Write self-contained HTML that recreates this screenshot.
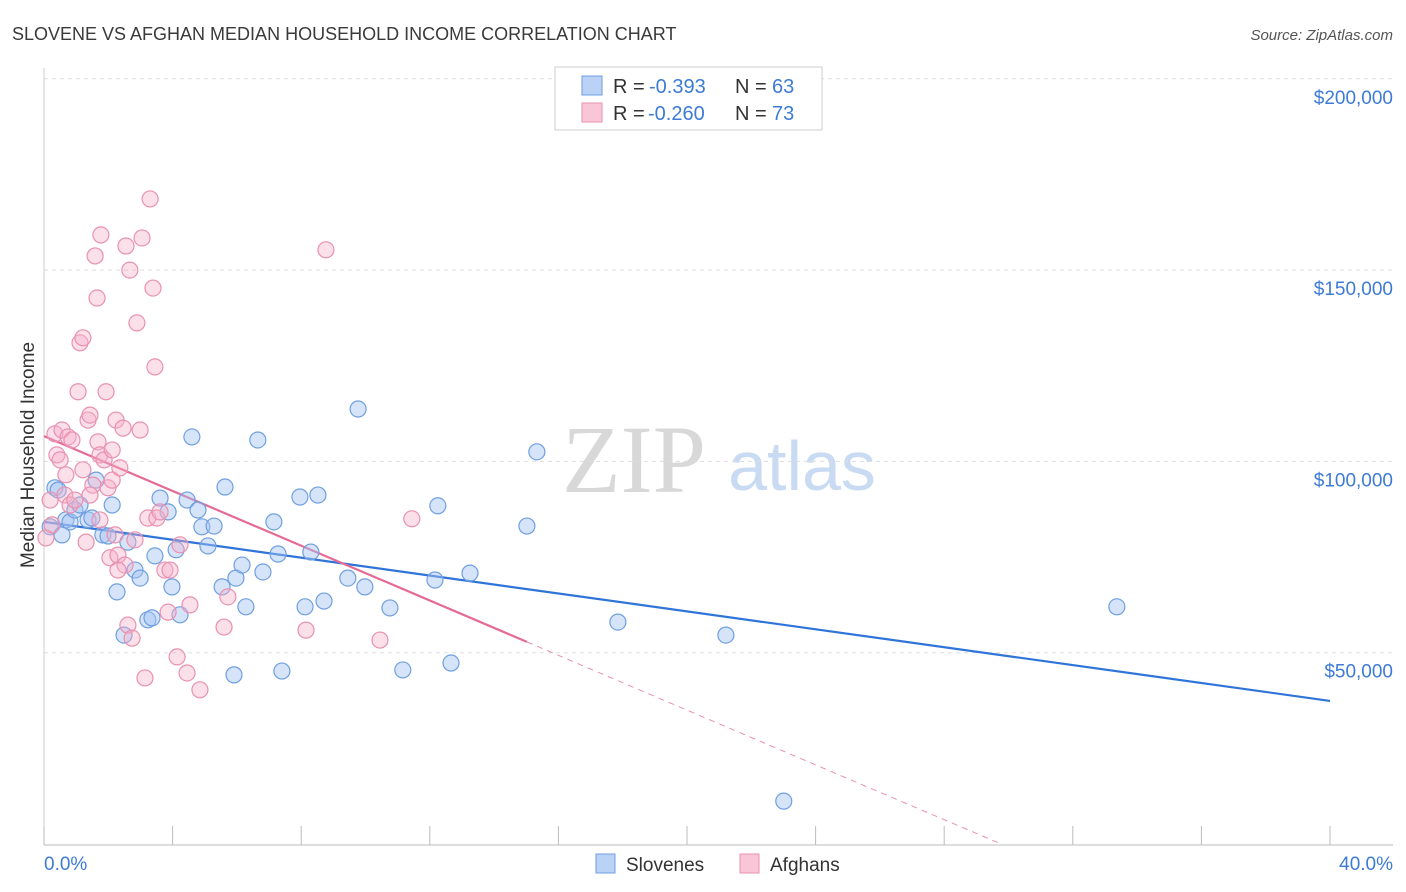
<!DOCTYPE html>
<html><head><meta charset="utf-8"><style>
body{margin:0;background:#fff;font-family:"Liberation Sans",sans-serif}
svg{display:block}
</style></head><body>
<svg id="chart" width="1406" height="892">
<text x="12" y="40" font-size="18" fill="#3a3a3a">SLOVENE VS AFGHAN MEDIAN HOUSEHOLD INCOME CORRELATION CHART</text>
<text x="1393" y="40" font-size="15" fill="#555" text-anchor="end" font-style="italic">Source: ZipAtlas.com</text>
<g>
<text x="634" y="492" font-size="96" fill="#d8d8d8" font-family="Liberation Serif,serif" text-anchor="middle">ZIP</text>
<text x="802" y="490" font-size="70" fill="#c9dbf3" text-anchor="middle">atlas</text>
</g>
<text transform="translate(34,455) rotate(-90)" font-size="19" fill="#333" text-anchor="middle">Median Household Income</text>
<g id="grid"></g><g id="axes"></g><g id="lines"></g><g id="pts"></g>
<g>
<rect x="555" y="67" width="267" height="63" fill="#fff" stroke="#ccc"/>
<rect x="582" y="76" width="20" height="19" fill="#b9d2f5" stroke="#6f9fe0"/>
<rect x="582" y="103" width="20" height="19" fill="#f8c6d6" stroke="#e991b0"/>
<text y="93" font-size="20" fill="#333"><tspan x="613">R =</tspan><tspan x="649" fill="#3d7bd6">-0.393</tspan><tspan x="735">N =</tspan><tspan x="772" fill="#3d7bd6">63</tspan></text>
<text y="120" font-size="20" fill="#333"><tspan x="613">R =</tspan><tspan x="648" fill="#3d7bd6">-0.260</tspan><tspan x="735">N =</tspan><tspan x="772" fill="#3d7bd6">73</tspan></text>
</g>
<g>
<rect x="596" y="854" width="19" height="19" fill="#b9d2f5" stroke="#6f9fe0"/>
<text x="626" y="871" font-size="19" fill="#333">Slovenes</text>
<rect x="740" y="854" width="19" height="19" fill="#f8c6d6" stroke="#e991b0"/>
<text x="770" y="871" font-size="19" fill="#333">Afghans</text>
</g>
</svg>
<script>
const yTicks=[50000,100000,150000,200000];
const yTickLabels=["$50,000","$100,000","$150,000","$200,000"];
const xTickVals=[0,4,8,12,16,20,24,28,32,36,40];
const blueX=[0.19,0.34,0.44,0.56,0.68,0.81,0.96,1.12,1.37,1.49,1.62,1.83,1.99,2.12,2.27,2.49,2.61,2.83,2.99,3.23,3.36,3.45,3.61,3.86,3.98,4.11,4.23,4.45,4.60,4.79,4.91,5.10,5.29,5.54,5.63,5.91,5.97,6.16,6.28,6.65,6.81,7.15,7.28,7.40,7.96,8.12,8.30,8.52,8.71,9.45,9.77,9.98,10.76,11.16,12.16,12.25,12.66,13.25,15.02,15.33,17.85,21.21,23.01,33.37];
const blueY=[82.9,93.1,92.5,80.8,84.7,84.2,87.3,88.6,84.7,85.2,95.1,80.8,80.5,88.6,65.9,54.6,78.9,71.6,69.5,58.6,59.1,75.3,90.4,86.8,67.2,76.9,59.9,89.9,106.4,87.3,82.9,77.9,83.1,67.2,93.3,44.2,69.5,72.9,62.0,105.6,71.1,84.2,75.8,45.2,90.7,62.0,76.3,91.2,63.5,69.5,113.7,67.2,61.7,45.5,69.0,88.4,47.3,70.8,83.1,102.5,58.0,54.6,11.2,62.0];
const pinkX=[0.06,0.19,0.25,0.34,0.40,0.50,0.56,0.65,0.75,0.81,0.87,1.06,1.12,1.21,1.21,1.31,1.37,1.43,1.52,1.59,1.65,1.68,1.74,1.77,1.87,1.93,1.99,2.05,2.12,2.21,2.24,2.30,2.36,2.46,2.52,2.55,2.61,2.67,2.74,2.89,2.99,3.05,3.14,3.23,3.30,3.39,3.45,3.51,3.61,3.76,3.86,3.92,4.14,4.23,4.45,4.54,4.85,5.60,5.72,8.15,8.77,10.45,11.44,0.68,0.96,1.74,2.30,2.12,2.83,1.43];
const pinkY=[80.0,89.9,83.4,107.2,101.7,100.4,108.2,91.2,106.4,88.6,105.6,118.2,131.0,132.3,97.8,78.9,110.8,112.1,93.8,153.7,142.7,105.1,101.7,159.2,100.4,118.2,93.1,74.8,95.1,80.8,110.8,75.5,98.3,108.7,72.9,156.3,57.2,150.0,53.8,136.2,108.2,158.4,43.4,85.2,168.6,145.3,124.7,85.2,86.8,71.6,60.6,71.6,48.9,78.2,44.7,62.5,40.3,56.7,64.6,55.9,155.3,53.3,85.0,96.5,89.9,84.7,71.6,103.0,79.5,91.2];
const blueFit=[84.2,-1.17];
const pinkFit=[106.6,-3.58];
const pinkSolidEnd=15.02, pinkDashEnd=29.7;

const NS="http://www.w3.org/2000/svg";
const xs=v=>44+(v/40)*1286;
const ys=k=>844-(k/50)*191.3;
function mk(tag,attrs,parent){const e=document.createElementNS(NS,tag);for(const k in attrs)e.setAttribute(k,attrs[k]);document.getElementById(parent).appendChild(e);return e;}
yTicks.forEach((t,i)=>{
 const y=ys(t/1000);
 const g=mk('line',{x1:44,x2:1393,y1:y,y2:y,stroke:'#ddd','stroke-dasharray':'4,4'},'grid');
 
 
 const tx=mk('text',{x:1393,y:y+25,'font-size':19,fill:'#3d7bd6','text-anchor':'end'},'axes');
 tx.textContent=yTickLabels[i];
 
 
});
const xa=mk('line',{x1:44,x2:1393,y1:845,y2:845,stroke:'#bbb'},'axes');


const ya=mk('line',{x1:44,x2:44,y1:68,y2:845,stroke:'#ccc'},'axes');


xTickVals.forEach(v=>{const t=mk('line',{x1:xs(v),x2:xs(v),y1:826,y2:845,stroke:'#bbb'},'axes');
 
 });
const l0=mk('text',{x:44,y:870,'font-size':19,fill:'#3d7bd6'},'axes');l0.textContent='0.0%';


const l1=mk('text',{x:1393,y:870,'font-size':19,fill:'#3d7bd6','text-anchor':'end'},'axes');l1.textContent='40.0%';


for(let i=0;i<blueX.length;i++){const c=mk('circle',{cx:xs(blueX[i]),cy:ys(blueY[i]),r:8,fill:'rgba(164,196,244,0.45)',stroke:'#6f9fe0','stroke-width':1.2},'pts');
 
 }
for(let i=0;i<pinkX.length;i++){const c=mk('circle',{cx:xs(pinkX[i]),cy:ys(pinkY[i]),r:8,fill:'rgba(246,176,200,0.4)',stroke:'#e991b0','stroke-width':1.2},'pts');
 
 }
const bl=mk('line',{x1:xs(0),y1:ys(blueFit[0]),x2:xs(40),y2:ys(blueFit[0]+blueFit[1]*40),stroke:'#2f74d9','stroke-width':2.2},'lines');


const pl=mk('line',{x1:xs(0),y1:ys(pinkFit[0]),x2:xs(pinkSolidEnd),y2:ys(pinkFit[0]+pinkFit[1]*pinkSolidEnd),stroke:'#e56b95','stroke-width':2.2},'lines');


const pd=mk('line',{x1:xs(pinkSolidEnd),y1:ys(pinkFit[0]+pinkFit[1]*pinkSolidEnd),x2:xs(pinkDashEnd),y2:ys(pinkFit[0]+pinkFit[1]*pinkDashEnd),stroke:'#e991b0','stroke-width':1,'stroke-dasharray':'6,5'},'lines');


</script>
</body></html>
